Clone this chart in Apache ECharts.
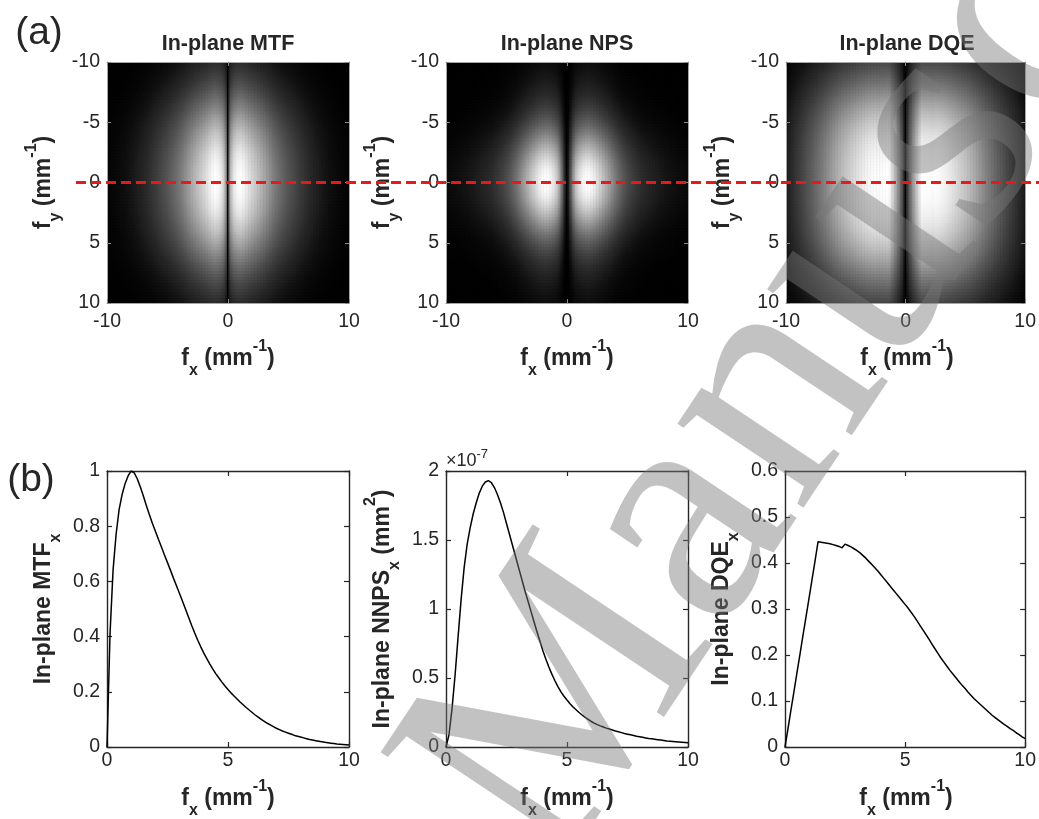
<!DOCTYPE html>
<html>
<head>
<meta charset="utf-8">
<title>In-plane MTF, NPS and DQE</title>
<script src="https://cdn.jsdelivr.net/npm/echarts@6.0.0/dist/echarts.min.js"></script>
<style>
  html, body { margin: 0; padding: 0; background: #ffffff; }
  #chart { width: 1039px; height: 819px; }
</style>
</head>
<body>
<div id="chart"></div>
<script>
// ---------------- data ----------------
// spatial-frequency samples along fx: 0 .. 10 mm^-1 every 0.125 mm^-1
const fxStep = 0.125;
const fxSamples = [];
for (let i = 0; i <= 80; i++) fxSamples.push(i * fxStep);

// In-plane MTF along fx (fy = 0), one row per 1 mm^-1
const mtfX = [
  0, 0.41, 0.64, 0.77, 0.86, 0.915, 0.955, 0.983,
  1.0, 0.993, 0.972, 0.943, 0.91, 0.875, 0.842, 0.811,
  0.782, 0.753, 0.725, 0.696, 0.668, 0.64, 0.611, 0.583,
  0.555, 0.527, 0.498, 0.469, 0.44, 0.413, 0.387, 0.363,
  0.34, 0.32, 0.3, 0.282, 0.265, 0.25, 0.235, 0.221,
  0.208, 0.196, 0.185, 0.174, 0.163, 0.153, 0.143, 0.134,
  0.125, 0.116, 0.108, 0.1, 0.093, 0.086, 0.08, 0.074,
  0.068, 0.063, 0.058, 0.054, 0.05, 0.046, 0.042, 0.039,
  0.036, 0.033, 0.03, 0.027, 0.025, 0.023, 0.021, 0.019,
  0.017, 0.0155, 0.014, 0.0125, 0.011, 0.01, 0.009, 0.008,
  0.007];

// In-plane NNPS along fx (fy = 0), in units of 1e-7 mm^2
const nnpsX = [
  0, 0.09, 0.28, 0.52, 0.8, 1.07, 1.3, 1.47,
  1.59, 1.69, 1.77, 1.84, 1.89, 1.92, 1.93, 1.915,
  1.88, 1.83, 1.77, 1.7, 1.62, 1.54, 1.46, 1.38,
  1.3, 1.22, 1.14, 1.065, 0.99, 0.915, 0.84, 0.77,
  0.7, 0.638, 0.58, 0.528, 0.48, 0.438, 0.4, 0.368,
  0.34, 0.314, 0.29, 0.27, 0.25, 0.232, 0.215, 0.2,
  0.185, 0.173, 0.162, 0.153, 0.145, 0.137, 0.13, 0.123,
  0.116, 0.11, 0.104, 0.098, 0.093, 0.088, 0.083, 0.078,
  0.074, 0.07, 0.066, 0.062, 0.059, 0.056, 0.053, 0.05,
  0.047, 0.044, 0.042, 0.04, 0.038, 0.036, 0.034, 0.032,
  0.03];
const NNPS_EXPONENT = -7;

// In-plane DQE along fx (fy = 0)
const dqeX = [
  0, 0.04, 0.081, 0.121, 0.162, 0.202, 0.243, 0.283,
  0.323, 0.364, 0.404, 0.446, 0.445, 0.444, 0.443, 0.442,
  0.44, 0.438, 0.436, 0.433, 0.441, 0.438, 0.435, 0.431,
  0.427, 0.422, 0.416, 0.41, 0.403, 0.396, 0.389, 0.382,
  0.374, 0.366, 0.358, 0.35, 0.342, 0.334, 0.326, 0.318,
  0.31, 0.302, 0.293, 0.284, 0.274, 0.264, 0.254, 0.244,
  0.234, 0.223, 0.213, 0.203, 0.193, 0.184, 0.175, 0.166,
  0.158, 0.15, 0.142, 0.134, 0.127, 0.119, 0.112, 0.105,
  0.099, 0.093, 0.087, 0.081, 0.075, 0.069, 0.064, 0.059,
  0.054, 0.049, 0.045, 0.04, 0.036, 0.031, 0.027, 0.022,
  0.018];

// Relative profiles along |fy| (0 .. 10 mm^-1 every 0.25) through the bright lobes
const fyStep = 0.25;
const mtfFy = [1.0, 1.0, 0.995, 0.99, 0.98, 0.97, 0.955, 0.94, 0.92, 0.9, 0.875, 0.85, 0.82, 0.79, 0.76,
  0.73, 0.70, 0.665, 0.63, 0.595, 0.56, 0.525, 0.49, 0.455, 0.42, 0.39, 0.36, 0.33, 0.30, 0.275,
  0.25, 0.225, 0.205, 0.185, 0.165, 0.15, 0.135, 0.12, 0.107, 0.095, 0.085];
const npsFy = [1, 0.995, 0.985, 0.965, 0.94, 0.91, 0.87, 0.83, 0.78, 0.73, 0.68, 0.63, 0.58, 0.53, 0.48,
  0.435, 0.39, 0.35, 0.31, 0.275, 0.245, 0.215, 0.19, 0.168, 0.148, 0.13, 0.115, 0.102, 0.09, 0.08,
  0.071, 0.063, 0.056, 0.05, 0.045, 0.04, 0.036, 0.032, 0.029, 0.026, 0.024];
const dqeFy = [1, 1, 1, 0.995, 0.99, 0.985, 0.98, 0.97, 0.96, 0.95, 0.94, 0.925, 0.91, 0.895, 0.875,
  0.855, 0.835, 0.81, 0.785, 0.76, 0.73, 0.70, 0.67, 0.64, 0.61, 0.575, 0.545, 0.51, 0.48, 0.445,
  0.415, 0.385, 0.355, 0.325, 0.30, 0.275, 0.25, 0.225, 0.205, 0.185, 0.165];

const panelTitles = ['In-plane MTF', 'In-plane NPS', 'In-plane DQE'];

// ---------------- helpers ----------------
const SANS = "'Liberation Sans', Arial, Helvetica, sans-serif";
const SERIF = "'Liberation Serif', 'Times New Roman', serif";
const INK = '#262626';

function scaled(vals) {
  const peak = Math.max.apply(null, vals);
  return vals.map(function (v) { return v / peak; });
}

// mirrored 2-D map over -10..10 built from the fx and fy profiles
function mapData(rowVals, colProf) {
  const row = scaled(rowVals);
  const data = [];
  for (let i = 0; i <= 80; i++) {
    const fy = -10 + i * fyStep;
    const cy = colProf[Math.abs(i - 40)];
    for (let j = 0; j <= 160; j++) {
      const fx = -10 + j * fxStep;
      data.push([fx, fy, row[Math.abs(j - 80)] * cy]);
    }
  }
  return data;
}

// one map cell, slightly oversized so neighbouring cells leave no seams
function renderCell(params, api) {
  const fx = api.value(0), fy = api.value(1);
  const a = api.coord([fx - fxStep / 2, fy - fyStep / 2]);
  const b = api.coord([fx + fxStep / 2, fy + fyStep / 2]);
  const x = Math.min(a[0], b[0]), y = Math.min(a[1], b[1]);
  return {
    type: 'rect',
    shape: { x: x - 0.3, y: y - 0.3, width: Math.abs(b[0] - a[0]) + 0.6, height: Math.abs(b[1] - a[1]) + 0.6 },
    style: { fill: api.visual('color') }
  };
}

// gray colour ramp with a mild display gamma
const grayRamp = [];
for (let i = 0; i <= 20; i++) {
  const c = Math.round(255 * Math.pow(i / 20, 0.7));
  grayRamp.push('rgb(' + c + ',' + c + ',' + c + ')');
}

const heatPanels = [
  { left: 107, row: mtfX, col: mtfFy },
  { left: 446, row: nnpsX, col: npsFy },
  { left: 786, row: dqeX, col: dqeFy }
];
const HEAT_TOP = 62, HEAT_W = 242, HEAT_H = 241;

const linePanels = [
  { left: 107, y: mtfX, max: 1, interval: 0.2 },
  { left: 446, y: nnpsX, max: 2, interval: 0.5 },
  { left: 785, y: dqeX, max: 0.6, interval: 0.1 }
];
const LINE_TOP = 471, LINE_W = 242, LINE_H = 276;

const tickFont = { color: INK, fontFamily: SANS, fontSize: 19.5 };

const grids = [], xAxes = [], yAxes = [], series = [];

// maps
heatPanels.forEach(function (p) {
  grids.push({ left: p.left, top: HEAT_TOP, width: HEAT_W, height: HEAT_H,
    show: true, backgroundColor: '#000000', borderWidth: 0 });
});
const frameLine = { show: true, onZero: false, lineStyle: { color: '#a6a6a6', width: 1 } };
const frameTick = { show: true, inside: true, length: 4, lineStyle: { color: '#8a8a8a' } };
heatPanels.forEach(function (p, k) {
  xAxes.push({ type: 'value', gridIndex: k, min: -10, max: 10, interval: 10, position: 'bottom', z: 10,
    axisLine: frameLine, axisTick: frameTick, splitLine: { show: false },
    axisLabel: Object.assign({ margin: 9 }, tickFont) });
});
heatPanels.forEach(function (p, k) {
  xAxes.push({ type: 'value', gridIndex: k, min: -10, max: 10, interval: 10, position: 'top', z: 10,
    axisLine: frameLine, axisTick: frameTick, splitLine: { show: false }, axisLabel: { show: false } });
});
heatPanels.forEach(function (p, k) {
  yAxes.push({ type: 'value', gridIndex: k, min: -10, max: 10, interval: 5, inverse: true, position: 'left', z: 10,
    axisLine: frameLine, axisTick: frameTick, splitLine: { show: false },
    axisLabel: Object.assign({ margin: 7 }, tickFont) });
});
heatPanels.forEach(function (p, k) {
  yAxes.push({ type: 'value', gridIndex: k, min: -10, max: 10, interval: 5, inverse: true, position: 'right', z: 10,
    axisLine: frameLine, axisTick: frameTick, splitLine: { show: false }, axisLabel: { show: false } });
});
heatPanels.forEach(function (p, k) {
  series.push({
    type: 'custom', xAxisIndex: k, yAxisIndex: k, data: mapData(p.row, p.col),
    renderItem: renderCell, clip: true, silent: true, progressive: 0, animation: false,
    encode: { x: 0, y: 1 }
  });
});

// line plots
linePanels.forEach(function (p) {
  grids.push({ left: p.left, top: LINE_TOP, width: LINE_W, height: LINE_H });
});
const boxLine = { show: true, onZero: false, lineStyle: { color: INK, width: 1.4 } };
const boxTick = { show: true, inside: true, length: 5, lineStyle: { color: INK, width: 1.2 } };
linePanels.forEach(function (p, k) {
  xAxes.push({ type: 'value', gridIndex: 3 + k, min: 0, max: 10, interval: 5, position: 'bottom',
    axisLine: boxLine, axisTick: boxTick, splitLine: { show: false },
    axisLabel: Object.assign({ margin: 4 }, tickFont) });
});
linePanels.forEach(function (p, k) {
  xAxes.push({ type: 'value', gridIndex: 3 + k, min: 0, max: 10, interval: 5, position: 'top',
    axisLine: boxLine, axisTick: boxTick, splitLine: { show: false }, axisLabel: { show: false } });
});
linePanels.forEach(function (p, k) {
  yAxes.push({ type: 'value', gridIndex: 3 + k, min: 0, max: p.max, interval: p.interval, position: 'left',
    axisLine: boxLine, axisTick: boxTick, splitLine: { show: false },
    axisLabel: Object.assign({ margin: 7 }, tickFont) });
});
linePanels.forEach(function (p, k) {
  yAxes.push({ type: 'value', gridIndex: 3 + k, min: 0, max: p.max, interval: p.interval, position: 'right',
    axisLine: boxLine, axisTick: boxTick, splitLine: { show: false }, axisLabel: { show: false } });
});
linePanels.forEach(function (p, k) {
  series.push({
    type: 'line', xAxisIndex: 6 + k, yAxisIndex: 6 + k,
    data: fxSamples.map(function (f, i) { return [f, p.y[i]]; }),
    showSymbol: false, symbol: 'none', smooth: false, clip: true, silent: true,
    lineStyle: { color: '#000000', width: 1.5 }
  });
});

const chart = echarts.init(document.getElementById('chart'), null, { renderer: 'canvas' });
chart.setOption({
  animation: false,
  backgroundColor: '#ffffff',
  grid: grids,
  xAxis: xAxes,
  yAxis: yAxes,
  visualMap: {
    type: 'continuous', min: 0, max: 1, dimension: 2, seriesIndex: [0, 1, 2], show: false,
    inRange: { color: grayRamp }
  },
  series: series
});

// ---------------- text, guide line and watermark ----------------
const richLabel = {
  b: { fontFamily: SANS, fontWeight: 'bold', fontSize: 23, lineHeight: 40, verticalAlign: 'middle', fill: INK, color: INK },
  sub: { fontFamily: SANS, fontWeight: 'bold', fontSize: 16, lineHeight: 16, verticalAlign: 'bottom', fill: INK, color: INK },
  sup: { fontFamily: SANS, fontWeight: 'bold', fontSize: 16, lineHeight: 32, verticalAlign: 'top', fill: INK, color: INK }
};
function richText(x, y, text, rot) {
  return {
    type: 'text', x: x, y: y, rotation: rot || 0, z: 50, silent: true,
    style: { text: text, rich: richLabel, align: 'center', verticalAlign: 'middle',
      textAlign: 'center', textVerticalAlign: 'middle', fill: INK }
  };
}
function plainText(x, y, text, font, align) {
  return {
    type: 'text', x: x, y: y, z: 50, silent: true,
    style: { text: text, font: font, fill: INK, align: align || 'center', verticalAlign: 'middle',
      textAlign: align || 'center', textVerticalAlign: 'middle' }
  };
}

const fxLabel = '{b|f}{sub|x}{b| (mm}{sup|-1}{b|)}';
const fyLabel = '{b|f}{sub|y}{b| (mm}{sup|-1}{b|)}';
const yLineLabels = [
  '{b|In-plane MTF}{sub|x}',
  '{b|In-plane NNPS}{sub|x}{b| (mm}{sup|2}{b|)}',
  '{b|In-plane DQE}{sub|x}'
];

const g = [];
const HALF_PI = Math.PI / 2;
heatPanels.forEach(function (p, k) {
  const cx = p.left + HEAT_W / 2;
  g.push(plainText(cx, 44.5, panelTitles[k], 'bold 21.5px ' + SANS));
  g.push(richText(cx, 359, fxLabel));
  g.push(richText(p.left - 63, HEAT_TOP + HEAT_H / 2, fyLabel, HALF_PI));
});
linePanels.forEach(function (p, k) {
  const cx = p.left + LINE_W / 2;
  g.push(richText(cx, 799, fxLabel));
  g.push(richText(p.left - 63, LINE_TOP + LINE_H / 2, yLineLabels[k], HALF_PI));
});
g.push(plainText(39, 33, '(a)', '39px ' + SANS));
g.push(plainText(31, 480, '(b)', '39px ' + SANS));

// scale factor of the NNPS axis
g.push({
  type: 'text', x: 446, y: 461, z: 50, silent: true,
  style: {
    text: '{m|\u00d710}{e|' + NNPS_EXPONENT + '}',
    rich: {
      m: { fontFamily: SANS, fontSize: 18, lineHeight: 26, verticalAlign: 'middle', fill: INK, color: INK },
      e: { fontFamily: SANS, fontSize: 13, lineHeight: 20, verticalAlign: 'top', fill: INK, color: INK }
    },
    align: 'left', verticalAlign: 'middle', textAlign: 'left', textVerticalAlign: 'middle'
  }
});

// "Accepted Manuscript" watermark
const wmAngle = 56.3 * Math.PI / 180;
const wmFont = '330px ' + SERIF;
const wmFill = 'rgba(120,120,120,0.45)';
g.push({
  type: 'text', x: 483, y: 832, rotation: wmAngle, z: 100, silent: true,
  style: { text: 'Manuscript', font: wmFont, fill: wmFill, align: 'left', verticalAlign: 'middle',
    textAlign: 'left', textVerticalAlign: 'middle' }
});
g.push({
  type: 'text', x: 437, y: 900, rotation: wmAngle, z: 100, silent: true,
  style: { text: 'Accepted', font: wmFont, fill: wmFill, align: 'right', verticalAlign: 'middle',
    textAlign: 'right', textVerticalAlign: 'middle' }
});

// red dashed guide at fy = 0 through the three maps
const fyZero = chart.convertToPixel({ yAxisIndex: 0 }, 0);
g.push({
  type: 'line', z: 110, silent: true,
  shape: { x1: 76, y1: fyZero, x2: 1039, y2: fyZero },
  style: { stroke: '#e8191b', lineWidth: 3, lineDash: [10, 5] }
});

chart.setOption({ graphic: { elements: g } });
</script>
</body>
</html>
